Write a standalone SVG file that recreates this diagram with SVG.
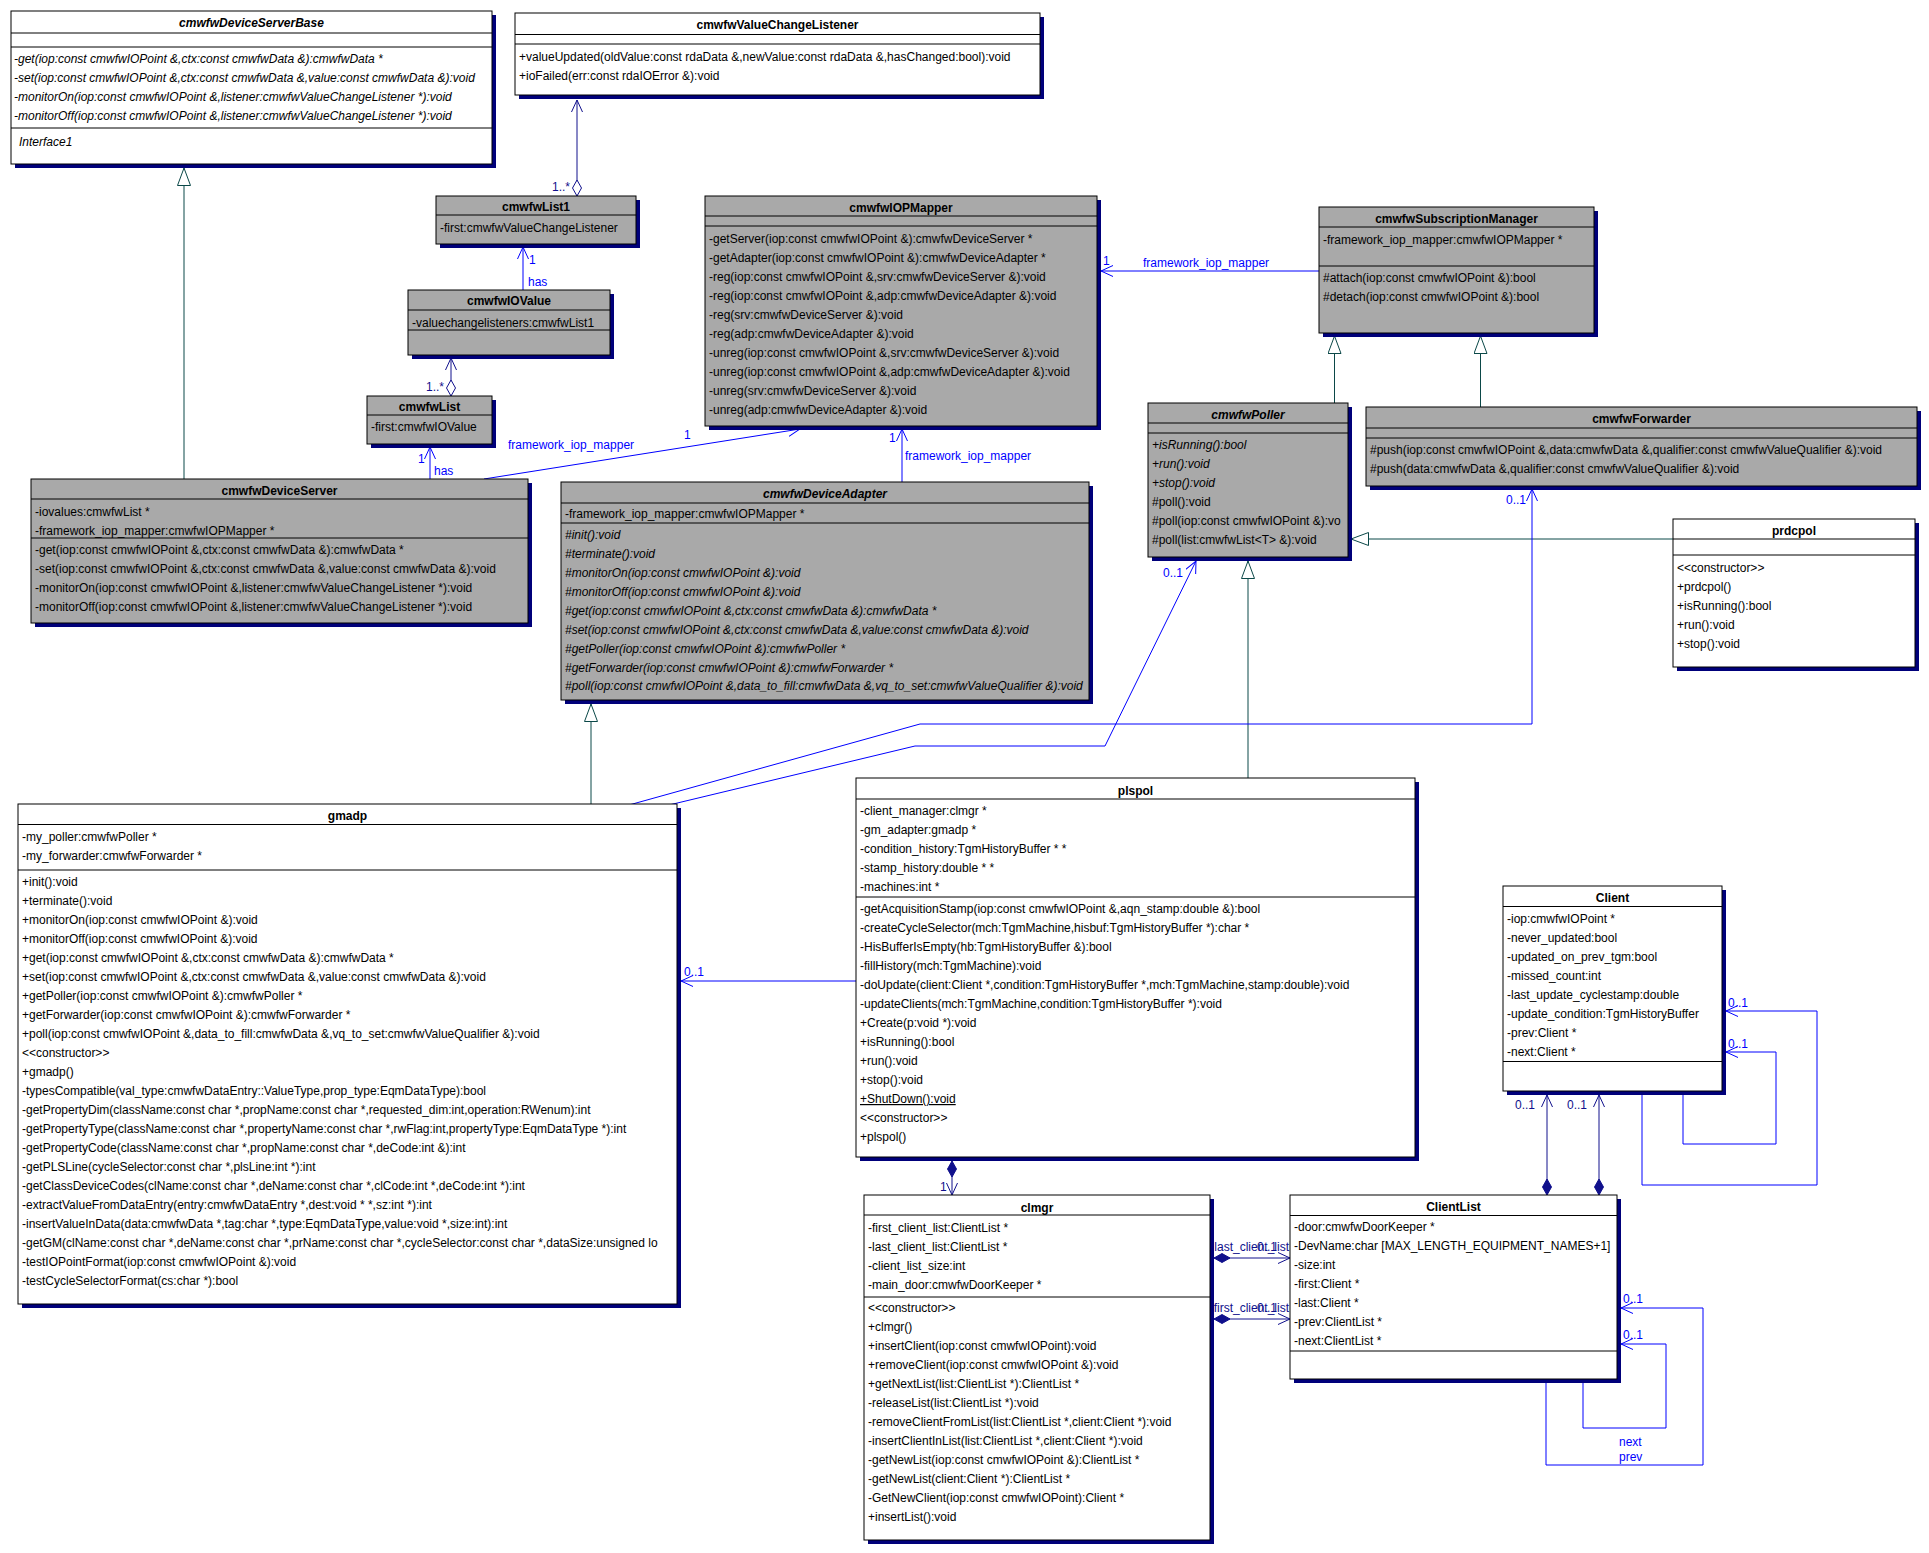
<svg xmlns="http://www.w3.org/2000/svg" width="1929" height="1553" viewBox="0 0 1929 1553">
<style>
.bg{fill:#fff}
.sh{fill:#00007a}
.bw{fill:#fff;stroke:#000;stroke-width:1}
.bg2{fill:#a9a9a9;stroke:#000;stroke-width:1}
.sep{stroke:#000;stroke-width:1;fill:none}
.t{font-family:"Liberation Sans",Arial,Helvetica,sans-serif;font-size:12px;fill:#000}
.tt{font-weight:bold;text-anchor:middle}
.i{font-style:italic}
.u{text-decoration:underline}
.as{stroke:#0000ff;fill:none;stroke-width:1}
.cp{stroke:#10108c;fill:none;stroke-width:1}
.gn{stroke:#0b4848;fill:none;stroke-width:1}
.lb{font-family:"Liberation Sans",Arial,Helvetica,sans-serif;font-size:12px;fill:#0000ff}
.ln{font-family:"Liberation Sans",Arial,Helvetica,sans-serif;font-size:12px;fill:#10108c}
</style>
<defs>
<marker id="aB" markerUnits="userSpaceOnUse" markerWidth="14" markerHeight="13" refX="12" refY="6" orient="auto"><path d="M0,0.5 L12,6 L0,11.5" fill="none" stroke="#0000ff" stroke-width="1"/></marker>
<marker id="aN" markerUnits="userSpaceOnUse" markerWidth="14" markerHeight="13" refX="12" refY="6" orient="auto"><path d="M0,0.5 L12,6 L0,11.5" fill="none" stroke="#10108c" stroke-width="1"/></marker>
<marker id="tri" markerUnits="userSpaceOnUse" markerWidth="20" markerHeight="15" refX="18" refY="7" orient="auto"><path d="M0.5,0.5 L18,7 L0.5,13.5 Z" fill="#fff" stroke="#0b4848" stroke-width="1"/></marker>
<marker id="dH" markerUnits="userSpaceOnUse" markerWidth="18" markerHeight="11" refX="0" refY="5" orient="auto"><path d="M0,5 L8,0.5 L16,5 L8,9.5 Z" fill="#fff" stroke="#10108c" stroke-width="1"/></marker>
<marker id="dF" markerUnits="userSpaceOnUse" markerWidth="18" markerHeight="11" refX="0" refY="5" orient="auto"><path d="M0,5 L8,0.5 L16,5 L8,9.5 Z" fill="#10108c" stroke="#10108c" stroke-width="1"/></marker>
<clipPath id="cPoller"><rect x="1148" y="403" width="199" height="154"/></clipPath>
<clipPath id="cGmadp"><rect x="18" y="804" width="658" height="500"/></clipPath>
</defs>
<rect class="bg" x="0" y="0" width="1929" height="1553"/>

<g id="connectors">
<path class="gn" d="M184,479 V168" marker-end="url(#tri)"/>
<path class="cp" d="M577,196 V100" marker-start="url(#dH)" marker-end="url(#aN)"/>
<text class="ln" x="552" y="191">1..*</text>
<path class="as" d="M523,290 V247" marker-end="url(#aB)"/>
<text class="lb" x="529" y="264">1</text>
<text class="lb" x="528" y="286">has</text>
<path class="cp" d="M451,396 V358" marker-start="url(#dH)" marker-end="url(#aN)"/>
<text class="ln" x="426" y="391">1..*</text>
<path class="as" d="M430,479 V447" marker-end="url(#aB)"/>
<text class="lb" x="418" y="463">1</text>
<text class="lb" x="434" y="475">has</text>
<path class="as" d="M484,479 L800,429" marker-end="url(#aB)"/>
<text class="lb" x="508" y="449">framework_iop_mapper</text>
<text class="lb" x="684" y="439">1</text>
<path class="as" d="M902,482 V429" marker-end="url(#aB)"/>
<text class="lb" x="889" y="442">1</text>
<text class="lb" x="905" y="460">framework_iop_mapper</text>
<path class="as" d="M1319,271 H1101" marker-end="url(#aB)"/>
<text class="lb" x="1103" y="265">1</text>
<text class="lb" x="1143" y="267">framework_iop_mapper</text>
<path class="gn" d="M1334.5,403 V336" marker-end="url(#tri)"/>
<path class="gn" d="M1480.5,407 V336" marker-end="url(#tri)"/>
<path class="gn" d="M1673,539 H1351" marker-end="url(#tri)"/>
<path class="gn" d="M1248,778 V561" marker-end="url(#tri)"/>
<path class="gn" d="M591,804 V704" marker-end="url(#tri)"/>
<path class="as" d="M629,805 L920,724 H1532 V489" marker-end="url(#aB)"/>
<text class="lb" x="1506" y="504">0..1</text>
<path class="as" d="M669,805 L915,746 H1105 L1196,561" marker-end="url(#aB)"/>
<text class="lb" x="1163" y="577">0..1</text>
<path class="as" d="M856,981 H681" marker-end="url(#aB)"/>
<text class="lb" x="684" y="976">0..1</text>
<path class="cp" d="M952,1161 V1195" marker-start="url(#dF)" marker-end="url(#aN)"/>
<text class="ln" x="940" y="1191">1</text>
<text class="ln" x="1289" y="1251" text-anchor="end">last_client_list</text>
<text class="ln" x="1257" y="1251">0..1</text>
<path class="cp" d="M1214,1258 H1290" marker-start="url(#dF)" marker-end="url(#aN)"/>
<text class="ln" x="1289" y="1312" text-anchor="end">first_client_list</text>
<text class="ln" x="1257" y="1312">0..1</text>
<path class="cp" d="M1214,1319 H1290" marker-start="url(#dF)" marker-end="url(#aN)"/>
<path class="cp" d="M1547,1195 V1095" marker-start="url(#dF)" marker-end="url(#aN)"/>
<text class="ln" x="1515" y="1109">0..1</text>
<path class="cp" d="M1599,1195 V1095" marker-start="url(#dF)" marker-end="url(#aN)"/>
<text class="ln" x="1567" y="1109">0..1</text>
<path class="as" d="M1642,1091 V1185 H1817 V1011 H1726" marker-end="url(#aB)"/>
<text class="lb" x="1728" y="1007">0..1</text>
<path class="as" d="M1683,1091 V1144 H1776 V1052 H1726" marker-end="url(#aB)"/>
<text class="lb" x="1728" y="1048">0..1</text>
<path class="as" d="M1546,1379 V1465 H1703 V1308 H1621" marker-end="url(#aB)"/>
<text class="lb" x="1623" y="1303">0..1</text>
<path class="as" d="M1583,1379 V1428 H1666 V1344 H1621" marker-end="url(#aB)"/>
<text class="lb" x="1623" y="1339">0..1</text>
<text class="lb" x="1619" y="1446">next</text>
<text class="lb" x="1619" y="1461">prev</text>
</g>

<g id="n-cmwfwDeviceServerBase">
<rect class="sh" x="15" y="15" width="481" height="153"/>
<rect class="bw" x="11" y="11" width="481" height="153"/>
<path class="sep" d="M11,33H492M11,47H492M11,128H492"/>
<text class="t tt i" x="251.5" y="27">cmwfwDeviceServerBase</text>
<text class="t i" x="14" y="63">-get(iop:const cmwfwIOPoint &amp;,ctx:const cmwfwData &amp;):cmwfwData *</text>
<text class="t i" x="14" y="82">-set(iop:const cmwfwIOPoint &amp;,ctx:const cmwfwData &amp;,value:const cmwfwData &amp;):void</text>
<text class="t i" x="14" y="101">-monitorOn(iop:const cmwfwIOPoint &amp;,listener:cmwfwValueChangeListener *):void</text>
<text class="t i" x="14" y="120">-monitorOff(iop:const cmwfwIOPoint &amp;,listener:cmwfwValueChangeListener *):void</text>
<text class="t i" x="19" y="146">Interface1</text>
</g>

<g id="n-cmwfwValueChangeListener">
<rect class="sh" x="519" y="17" width="525" height="82"/>
<rect class="bw" x="515" y="13" width="525" height="82"/>
<path class="sep" d="M515,34.5H1040M515,44H1040"/>
<text class="t tt" x="777.5" y="29">cmwfwValueChangeListener</text>
<text class="t" x="519" y="61">+valueUpdated(oldValue:const rdaData &amp;,newValue:const rdaData &amp;,hasChanged:bool):void</text>
<text class="t" x="519" y="80">+ioFailed(err:const rdaIOError &amp;):void</text>
</g>

<g id="n-cmwfwList1">
<rect class="sh" x="440" y="200" width="200" height="48"/>
<rect class="bg2" x="436" y="196" width="200" height="48"/>
<path class="sep" d="M436,215H636"/>
<text class="t tt" x="536" y="211">cmwfwList1</text>
<text class="t" x="440" y="232">-first:cmwfwValueChangeListener</text>
</g>

<g id="n-cmwfwIOValue">
<rect class="sh" x="412" y="294" width="202" height="65"/>
<rect class="bg2" x="408" y="290" width="202" height="65"/>
<path class="sep" d="M408,310H610M408,330H610"/>
<text class="t tt" x="509" y="305">cmwfwIOValue</text>
<text class="t" x="412" y="327">-valuechangelisteners:cmwfwList1</text>
</g>

<g id="n-cmwfwList">
<rect class="sh" x="371" y="400" width="125" height="48"/>
<rect class="bg2" x="367" y="396" width="125" height="48"/>
<path class="sep" d="M367,415H492"/>
<text class="t tt" x="429.5" y="411">cmwfwList</text>
<text class="t" x="371" y="431">-first:cmwfwIOValue</text>
</g>

<g id="n-cmwfwDeviceServer">
<rect class="sh" x="35" y="483" width="497" height="144"/>
<rect class="bg2" x="31" y="479" width="497" height="144"/>
<path class="sep" d="M31,499H528M31,538H528"/>
<text class="t tt" x="279.5" y="495">cmwfwDeviceServer</text>
<text class="t" x="35" y="516">-iovalues:cmwfwList *</text>
<text class="t" x="35" y="535">-framework_iop_mapper:cmwfwIOPMapper *</text>
<text class="t" x="35" y="554">-get(iop:const cmwfwIOPoint &amp;,ctx:const cmwfwData &amp;):cmwfwData *</text>
<text class="t" x="35" y="573">-set(iop:const cmwfwIOPoint &amp;,ctx:const cmwfwData &amp;,value:const cmwfwData &amp;):void</text>
<text class="t" x="35" y="592">-monitorOn(iop:const cmwfwIOPoint &amp;,listener:cmwfwValueChangeListener *):void</text>
<text class="t" x="35" y="611">-monitorOff(iop:const cmwfwIOPoint &amp;,listener:cmwfwValueChangeListener *):void</text>
</g>

<g id="n-cmwfwIOPMapper">
<rect class="sh" x="709" y="200" width="392" height="230"/>
<rect class="bg2" x="705" y="196" width="392" height="230"/>
<path class="sep" d="M705,216H1097M705,226H1097"/>
<text class="t tt" x="901" y="212">cmwfwIOPMapper</text>
<text class="t" x="709" y="243">-getServer(iop:const cmwfwIOPoint &amp;):cmwfwDeviceServer *</text>
<text class="t" x="709" y="262">-getAdapter(iop:const cmwfwIOPoint &amp;):cmwfwDeviceAdapter *</text>
<text class="t" x="709" y="281">-reg(iop:const cmwfwIOPoint &amp;,srv:cmwfwDeviceServer &amp;):void</text>
<text class="t" x="709" y="300">-reg(iop:const cmwfwIOPoint &amp;,adp:cmwfwDeviceAdapter &amp;):void</text>
<text class="t" x="709" y="319">-reg(srv:cmwfwDeviceServer &amp;):void</text>
<text class="t" x="709" y="338">-reg(adp:cmwfwDeviceAdapter &amp;):void</text>
<text class="t" x="709" y="357">-unreg(iop:const cmwfwIOPoint &amp;,srv:cmwfwDeviceServer &amp;):void</text>
<text class="t" x="709" y="376">-unreg(iop:const cmwfwIOPoint &amp;,adp:cmwfwDeviceAdapter &amp;):void</text>
<text class="t" x="709" y="395">-unreg(srv:cmwfwDeviceServer &amp;):void</text>
<text class="t" x="709" y="414">-unreg(adp:cmwfwDeviceAdapter &amp;):void</text>
</g>

<g id="n-cmwfwSubscriptionManager">
<rect class="sh" x="1323" y="211" width="275" height="126"/>
<rect class="bg2" x="1319" y="207" width="275" height="126"/>
<path class="sep" d="M1319,227H1594M1319,266H1594"/>
<text class="t tt" x="1456.5" y="223">cmwfwSubscriptionManager</text>
<text class="t" x="1323" y="244">-framework_iop_mapper:cmwfwIOPMapper *</text>
<text class="t" x="1323" y="282">#attach(iop:const cmwfwIOPoint &amp;):bool</text>
<text class="t" x="1323" y="301">#detach(iop:const cmwfwIOPoint &amp;):bool</text>
</g>

<g id="n-cmwfwPoller">
<rect class="sh" x="1152" y="407" width="200" height="154"/>
<rect class="bg2" x="1148" y="403" width="200" height="154"/>
<path class="sep" d="M1148,423H1348M1148,433H1348"/>
<text class="t tt i" x="1248" y="419">cmwfwPoller</text>
<g clip-path="url(#cPoller)">
<text class="t i" x="1152" y="449">+isRunning():bool</text>
<text class="t i" x="1152" y="468">+run():void</text>
<text class="t i" x="1152" y="487">+stop():void</text>
<text class="t" x="1152" y="506">#poll():void</text>
<text class="t" x="1152" y="525">#poll(iop:const cmwfwIOPoint &amp;):vo</text>
<text class="t" x="1152" y="544">#poll(list:cmwfwList&lt;T&gt; &amp;):void</text>
</g>
</g>

<g id="n-cmwfwForwarder">
<rect class="sh" x="1370" y="411" width="551" height="79"/>
<rect class="bg2" x="1366" y="407" width="551" height="79"/>
<path class="sep" d="M1366,428H1917M1366,438H1917"/>
<text class="t tt" x="1641.5" y="423">cmwfwForwarder</text>
<text class="t" x="1370" y="454">#push(iop:const cmwfwIOPoint &amp;,data:cmwfwData &amp;,qualifier:const cmwfwValueQualifier &amp;):void</text>
<text class="t" x="1370" y="473">#push(data:cmwfwData &amp;,qualifier:const cmwfwValueQualifier &amp;):void</text>
</g>

<g id="n-prdcpol">
<rect class="sh" x="1677" y="523" width="242" height="148"/>
<rect class="bw" x="1673" y="519" width="242" height="148"/>
<path class="sep" d="M1673,539H1915M1673,555H1915"/>
<text class="t tt" x="1794" y="535">prdcpol</text>
<text class="t" x="1677" y="572">&lt;&lt;constructor&gt;&gt;</text>
<text class="t" x="1677" y="591">+prdcpol()</text>
<text class="t" x="1677" y="610">+isRunning():bool</text>
<text class="t" x="1677" y="629">+run():void</text>
<text class="t" x="1677" y="648">+stop():void</text>
</g>

<g id="n-cmwfwDeviceAdapter">
<rect class="sh" x="565" y="486" width="528" height="218"/>
<rect class="bg2" x="561" y="482" width="528" height="218"/>
<path class="sep" d="M561,503H1089M561,523H1089"/>
<text class="t tt i" x="825" y="498">cmwfwDeviceAdapter</text>
<text class="t" x="565" y="518">-framework_iop_mapper:cmwfwIOPMapper *</text>
<text class="t i" x="565" y="539">#init():void</text>
<text class="t i" x="565" y="558">#terminate():void</text>
<text class="t i" x="565" y="577">#monitorOn(iop:const cmwfwIOPoint &amp;):void</text>
<text class="t i" x="565" y="596">#monitorOff(iop:const cmwfwIOPoint &amp;):void</text>
<text class="t i" x="565" y="615">#get(iop:const cmwfwIOPoint &amp;,ctx:const cmwfwData &amp;):cmwfwData *</text>
<text class="t i" x="565" y="634">#set(iop:const cmwfwIOPoint &amp;,ctx:const cmwfwData &amp;,value:const cmwfwData &amp;):void</text>
<text class="t i" x="565" y="653">#getPoller(iop:const cmwfwIOPoint &amp;):cmwfwPoller *</text>
<text class="t i" x="565" y="672">#getForwarder(iop:const cmwfwIOPoint &amp;):cmwfwForwarder *</text>
<text class="t i" x="565" y="690">#poll(iop:const cmwfwIOPoint &amp;,data_to_fill:cmwfwData &amp;,vq_to_set:cmwfwValueQualifier &amp;):void</text>
</g>

<g id="n-gmadp">
<rect class="sh" x="22" y="808" width="659" height="500"/>
<rect class="bw" x="18" y="804" width="659" height="500"/>
<path class="sep" d="M18,824.5H677M18,870H677"/>
<text class="t tt" x="347.5" y="820">gmadp</text>
<g clip-path="url(#cGmadp)">
<text class="t" x="22" y="841">-my_poller:cmwfwPoller *</text>
<text class="t" x="22" y="860">-my_forwarder:cmwfwForwarder *</text>
<text class="t" x="22" y="886">+init():void</text>
<text class="t" x="22" y="905">+terminate():void</text>
<text class="t" x="22" y="924">+monitorOn(iop:const cmwfwIOPoint &amp;):void</text>
<text class="t" x="22" y="943">+monitorOff(iop:const cmwfwIOPoint &amp;):void</text>
<text class="t" x="22" y="962">+get(iop:const cmwfwIOPoint &amp;,ctx:const cmwfwData &amp;):cmwfwData *</text>
<text class="t" x="22" y="981">+set(iop:const cmwfwIOPoint &amp;,ctx:const cmwfwData &amp;,value:const cmwfwData &amp;):void</text>
<text class="t" x="22" y="1000">+getPoller(iop:const cmwfwIOPoint &amp;):cmwfwPoller *</text>
<text class="t" x="22" y="1019">+getForwarder(iop:const cmwfwIOPoint &amp;):cmwfwForwarder *</text>
<text class="t" x="22" y="1038">+poll(iop:const cmwfwIOPoint &amp;,data_to_fill:cmwfwData &amp;,vq_to_set:cmwfwValueQualifier &amp;):void</text>
<text class="t" x="22" y="1057">&lt;&lt;constructor&gt;&gt;</text>
<text class="t" x="22" y="1076">+gmadp()</text>
<text class="t" x="22" y="1095">-typesCompatible(val_type:cmwfwDataEntry::ValueType,prop_type:EqmDataType):bool</text>
<text class="t" x="22" y="1114">-getPropertyDim(className:const char *,propName:const char *,requested_dim:int,operation:RWenum):int</text>
<text class="t" x="22" y="1133">-getPropertyType(className:const char *,propertyName:const char *,rwFlag:int,propertyType:EqmDataType *):int</text>
<text class="t" x="22" y="1152">-getPropertyCode(className:const char *,propName:const char *,deCode:int &amp;):int</text>
<text class="t" x="22" y="1171">-getPLSLine(cycleSelector:const char *,plsLine:int *):int</text>
<text class="t" x="22" y="1190">-getClassDeviceCodes(clName:const char *,deName:const char *,clCode:int *,deCode:int *):int</text>
<text class="t" x="22" y="1209">-extractValueFromDataEntry(entry:cmwfwDataEntry *,dest:void * *,sz:int *):int</text>
<text class="t" x="22" y="1228">-insertValueInData(data:cmwfwData *,tag:char *,type:EqmDataType,value:void *,size:int):int</text>
<text class="t" x="22" y="1247">-getGM(clName:const char *,deName:const char *,prName:const char *,cycleSelector:const char *,dataSize:unsigned lo</text>
<text class="t" x="22" y="1266">-testIOPointFormat(iop:const cmwfwIOPoint &amp;):void</text>
<text class="t" x="22" y="1285">-testCycleSelectorFormat(cs:char *):bool</text>
</g>
</g>

<g id="n-plspol">
<rect class="sh" x="860" y="782" width="559" height="379"/>
<rect class="bw" x="856" y="778" width="559" height="379"/>
<path class="sep" d="M856,799H1415M856,897H1415"/>
<text class="t tt" x="1135.5" y="795">plspol</text>
<text class="t" x="860" y="815">-client_manager:clmgr *</text>
<text class="t" x="860" y="834">-gm_adapter:gmadp *</text>
<text class="t" x="860" y="853">-condition_history:TgmHistoryBuffer * *</text>
<text class="t" x="860" y="872">-stamp_history:double * *</text>
<text class="t" x="860" y="891">-machines:int *</text>
<text class="t" x="860" y="913">-getAcquisitionStamp(iop:const cmwfwIOPoint &amp;,aqn_stamp:double &amp;):bool</text>
<text class="t" x="860" y="932">-createCycleSelector(mch:TgmMachine,hisbuf:TgmHistoryBuffer *):char *</text>
<text class="t" x="860" y="951">-HisBufferIsEmpty(hb:TgmHistoryBuffer &amp;):bool</text>
<text class="t" x="860" y="970">-fillHistory(mch:TgmMachine):void</text>
<text class="t" x="860" y="989">-doUpdate(client:Client *,condition:TgmHistoryBuffer *,mch:TgmMachine,stamp:double):void</text>
<text class="t" x="860" y="1008">-updateClients(mch:TgmMachine,condition:TgmHistoryBuffer *):void</text>
<text class="t" x="860" y="1027">+Create(p:void *):void</text>
<text class="t" x="860" y="1046">+isRunning():bool</text>
<text class="t" x="860" y="1065">+run():void</text>
<text class="t" x="860" y="1084">+stop():void</text>
<text class="t u" x="860" y="1103">+ShutDown():void</text>
<text class="t" x="860" y="1122">&lt;&lt;constructor&gt;&gt;</text>
<text class="t" x="860" y="1141">+plspol()</text>
</g>

<g id="n-clmgr">
<rect class="sh" x="868" y="1199" width="346" height="345"/>
<rect class="bw" x="864" y="1195" width="346" height="345"/>
<path class="sep" d="M864,1215H1210M864,1297H1210"/>
<text class="t tt" x="1037" y="1212">clmgr</text>
<text class="t" x="868" y="1232">-first_client_list:ClientList *</text>
<text class="t" x="868" y="1251">-last_client_list:ClientList *</text>
<text class="t" x="868" y="1270">-client_list_size:int</text>
<text class="t" x="868" y="1289">-main_door:cmwfwDoorKeeper *</text>
<text class="t" x="868" y="1312">&lt;&lt;constructor&gt;&gt;</text>
<text class="t" x="868" y="1331">+clmgr()</text>
<text class="t" x="868" y="1350">+insertClient(iop:const cmwfwIOPoint):void</text>
<text class="t" x="868" y="1369">+removeClient(iop:const cmwfwIOPoint &amp;):void</text>
<text class="t" x="868" y="1388">+getNextList(list:ClientList *):ClientList *</text>
<text class="t" x="868" y="1407">-releaseList(list:ClientList *):void</text>
<text class="t" x="868" y="1426">-removeClientFromList(list:ClientList *,client:Client *):void</text>
<text class="t" x="868" y="1445">-insertClientInList(list:ClientList *,client:Client *):void</text>
<text class="t" x="868" y="1464">-getNewList(iop:const cmwfwIOPoint &amp;):ClientList *</text>
<text class="t" x="868" y="1483">-getNewList(client:Client *):ClientList *</text>
<text class="t" x="868" y="1502">-GetNewClient(iop:const cmwfwIOPoint):Client *</text>
<text class="t" x="868" y="1521">+insertList():void</text>
</g>

<g id="n-ClientList">
<rect class="sh" x="1294" y="1199" width="327" height="184"/>
<rect class="bw" x="1290" y="1195" width="327" height="184"/>
<path class="sep" d="M1290,1215.5H1617M1290,1351H1617"/>
<text class="t tt" x="1453.5" y="1211">ClientList</text>
<text class="t" x="1294" y="1231">-door:cmwfwDoorKeeper *</text>
<text class="t" x="1294" y="1250">-DevName:char [MAX_LENGTH_EQUIPMENT_NAMES+1]</text>
<text class="t" x="1294" y="1269">-size:int</text>
<text class="t" x="1294" y="1288">-first:Client *</text>
<text class="t" x="1294" y="1307">-last:Client *</text>
<text class="t" x="1294" y="1326">-prev:ClientList *</text>
<text class="t" x="1294" y="1345">-next:ClientList *</text>
</g>

<g id="n-Client">
<rect class="sh" x="1507" y="890" width="219" height="205"/>
<rect class="bw" x="1503" y="886" width="219" height="205"/>
<path class="sep" d="M1503,906.5H1722M1503,1061.5H1722"/>
<text class="t tt" x="1612.5" y="902">Client</text>
<text class="t" x="1507" y="923">-iop:cmwfwIOPoint *</text>
<text class="t" x="1507" y="942">-never_updated:bool</text>
<text class="t" x="1507" y="961">-updated_on_prev_tgm:bool</text>
<text class="t" x="1507" y="980">-missed_count:int</text>
<text class="t" x="1507" y="999">-last_update_cyclestamp:double</text>
<text class="t" x="1507" y="1018">-update_condition:TgmHistoryBuffer</text>
<text class="t" x="1507" y="1037">-prev:Client *</text>
<text class="t" x="1507" y="1056">-next:Client *</text>
</g>
</svg>
